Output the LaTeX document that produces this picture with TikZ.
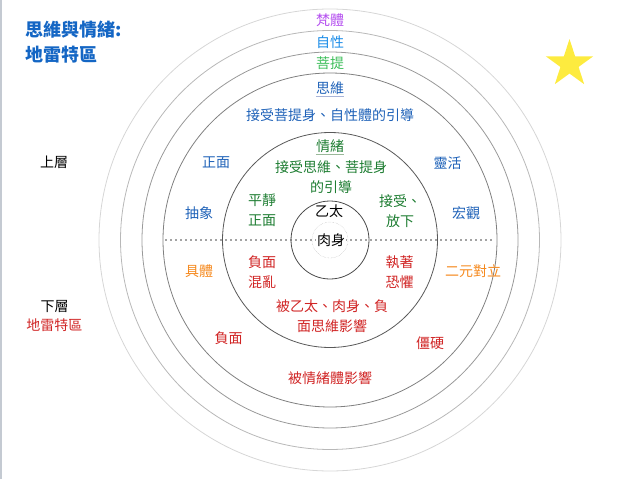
\documentclass[tikz,border=0pt]{standalone}
\usepackage{fontspec}
\setmainfont{Noto Sans CJK TC}
\usepackage{tikz}
\usetikzlibrary{shapes.geometric}
\definecolor{titleblue}{HTML}{1466C4}
\definecolor{mindblue}{HTML}{1F62B8}
\definecolor{skyblue}{HTML}{1A8CE8}
\definecolor{fanpurple}{HTML}{B44FEF}
\definecolor{sprout}{HTML}{3DBE5A}
\definecolor{emogreen}{HTML}{1E7D32}
\definecolor{warmorange}{HTML}{F5891E}
\definecolor{alertred}{HTML}{D02424}
\definecolor{ringdark}{HTML}{444444}
\definecolor{edgegray}{HTML}{C4CAD2}
\definecolor{starfill}{HTML}{FDEB3F}
\definecolor{siweiline}{HTML}{A8B4D8}
\definecolor{qingxuline}{HTML}{9AB89A}

\begin{document}
\begin{tikzpicture}[x=1pt, y=-1pt,
  lbl/.style={font=\fontsize{14}{20}\selectfont, inner sep=0pt, align=center}]
  \useasboundingbox (0,0) rectangle (640,479);
  % 左側邊線
  \draw[line width=1.5pt, edgegray] (0.75,0) -- (0.75,479);

  % 同心圓（外到內）
  \draw[line width=0.8pt, black!16] (330,240) circle (231);
  \draw[line width=0.8pt, black!28] (330,240) circle (209.5);
  \draw[line width=0.8pt, black!40] (330,240) circle (188);
  \draw[line width=0.8pt, black!50] (330,240) circle (167);
  \draw[line width=0.8pt, black!65] (330,240) circle (107.5);
  \draw[line width=0.8pt, black!70] (330,240) circle (39);
  \draw[gray!60, densely dotted] (330,240) circle (18);

  % 上下層分隔線
  \draw[line width=1.6pt, ringdark, dash pattern=on 0pt off 5pt, line cap=round] (166,240) -- (495,240);

  % 標題
  \node[font=\fontsize{18}{24}\selectfont\bfseries, text=titleblue, anchor=west, inner sep=0pt] (title) at (25,30) {思維與情緒:};
  \node[font=\fontsize{18}{24}\selectfont\bfseries, text=titleblue, anchor=west, inner sep=0pt] (titlesub) at (25,55) {地雷特區};
  \node[star, star points=5, star point ratio=2.618, minimum size=50pt, inner sep=0pt, fill=starfill] (star) at (569.5,64) {};

  % 各層名稱
  \node[lbl, text=fanpurple] (fanti) at (330,20) {梵體};
  \node[lbl, text=skyblue] (zixing) at (330,42.5) {自性};
  \node[lbl, text=sprout] (puti) at (330,63.5) {菩提};
  \node[lbl, text=mindblue] (siwei) at (330,88) {思維};
  \draw[line width=1pt, siweiline] ([yshift=-2pt]siwei.south west) -- ([yshift=-2pt]siwei.south east);
  \node[lbl, text=mindblue] (siweiyin) at (330,115) {接受菩提身、自性體的引導};

  % 思維層（上）
  \node[lbl, text=mindblue] (zhengmian) at (216,163) {正面};
  \node[lbl, text=mindblue] (chouxiang) at (199,213) {抽象};
  \node[lbl, text=mindblue] (linghuo) at (447.5,163) {靈活};
  \node[lbl, text=mindblue] (hongguan) at (466,213) {宏觀};

  % 情緒層（上）
  \node[lbl, text=emogreen] (qingxu) at (330,146) {情緒};
  \draw[line width=1pt, qingxuline] ([yshift=-2pt]qingxu.south west) -- ([yshift=-2pt]qingxu.south east);
  \node[lbl, text=emogreen] (qingxuyin) at (331,177) {接受思維、菩提身\\的引導};
  \node[lbl, text=emogreen] (pingjing) at (262,210.5) {平靜\\正面};
  \node[lbl, text=emogreen] (fangxia) at (400,211) {接受、\\放下};

  % 中心
  \node[lbl] (yitai) at (329,211) {乙太};
  \node[lbl, fill=white, inner sep=1pt] (roushen) at (331,240) {肉身};

  % 情緒層（下）
  \node[lbl, text=alertred] (fumian) at (262,272.5) {負面\\混亂};
  \node[lbl, text=alertred] (zhizhuo) at (399.5,272.5) {執著\\恐懼};
  \node[lbl, text=alertred] (qingxuying) at (332,316) {被乙太、肉身、負\\面思維影響};

  % 思維層（下）
  \node[lbl, text=warmorange] (juti) at (199,271) {具體};
  \node[lbl, text=warmorange] (eryuan) at (473,271) {二元對立};
  \node[lbl, text=alertred] (fumianwai) at (228.5,338) {負面};
  \node[lbl, text=alertred] (jiangying) at (430,343) {僵硬};
  \node[lbl, text=alertred] (siweiying) at (330,378) {被情緒體影響};

  % 左側說明
  \node[lbl] (shangceng) at (54,162) {上層};
  \node[lbl] (xiaceng) at (54.5,306.5) {下層};
  \node[lbl, text=alertred] (dilei) at (54.3,325) {地雷特區};
\end{tikzpicture}
\end{document}
